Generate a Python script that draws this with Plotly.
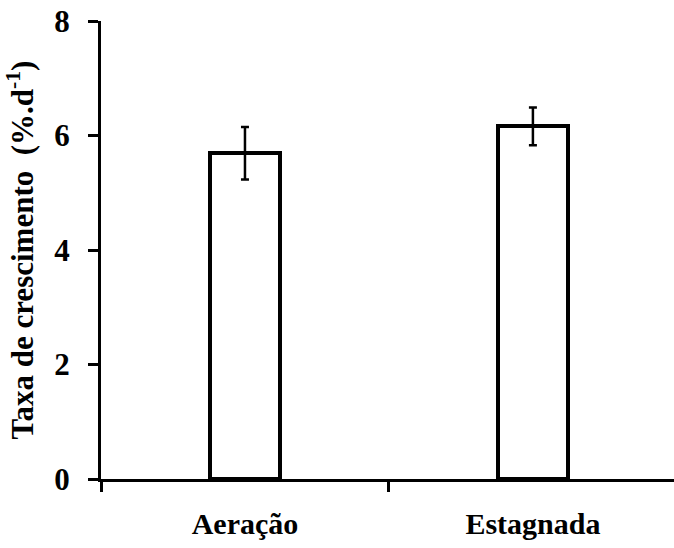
import plotly.graph_objects as go

# Growth rate by cultivation condition
categories = ["Aeração", "Estagnada"]
growth_rate = [5.69, 6.16]
growth_err = [0.46, 0.33]

font_family = "Liberation Serif"

fig = go.Figure()
fig.add_trace(go.Bar(
    x=categories,
    y=growth_rate,
    width=0.245,
    marker=dict(color="white", line=dict(color="black", width=4)),
    error_y=dict(type="data", array=growth_err, visible=True,
                 color="black", thickness=2.5, width=4),
    showlegend=False,
))

fig.update_layout(
    width=674, height=548,
    margin=dict(l=101, r=0, t=21, b=69),
    paper_bgcolor="white", plot_bgcolor="white",
    font=dict(family=font_family, color="black"),
    bargap=0,
)

fig.update_xaxes(
    type="category",
    range=[-0.5, 1.49],
    tickson="boundaries",
    ticks="outside", ticklen=10, tickwidth=3, tickcolor="black",
    showline=True, linecolor="black", linewidth=3,
    showgrid=False, zeroline=False,
    tickfont=dict(family=font_family, size=30, color="black", weight="bold"),
    ticklabelstandoff=16,
)

fig.update_yaxes(
    range=[0, 8],
    tickvals=[0, 2, 4, 6, 8],
    ticks="outside", ticklen=10, tickwidth=3, tickcolor="black",
    showline=True, linecolor="black", linewidth=3,
    showgrid=False, zeroline=False,
    tickfont=dict(family=font_family, size=31, color="black", weight="bold"),
    ticklabelstandoff=12,
    title=dict(text="Taxa de crescimento  (%.d<sup>-1</sup>)",
               font=dict(family=font_family, size=31, color="black", weight="bold"),
               standoff=12),
)

fig.write_html("out.html")
